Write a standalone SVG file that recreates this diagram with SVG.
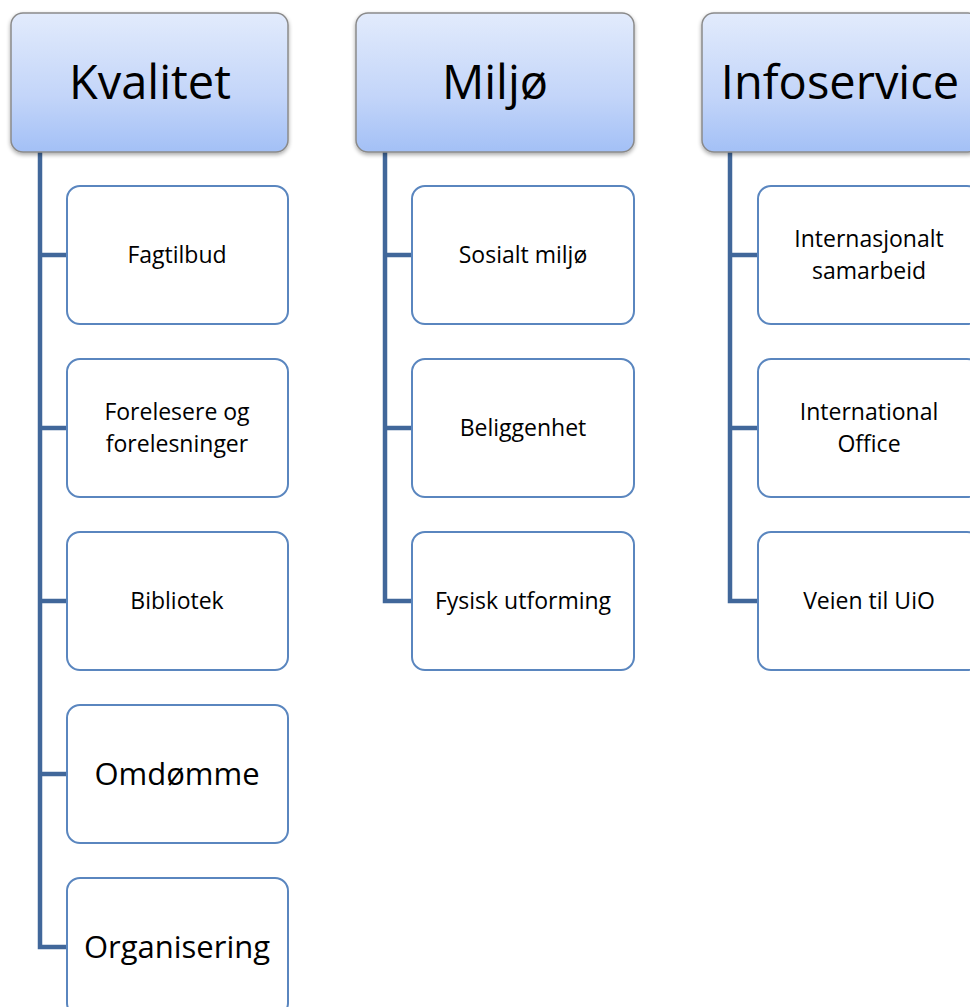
<svg xmlns="http://www.w3.org/2000/svg" width="970" height="1007" viewBox="0 0 970 1007">
<defs>
<linearGradient id="hg" x1="0" y1="0" x2="0" y2="1">
<stop offset="0" stop-color="#e2ebfc"/>
<stop offset="0.6" stop-color="#c3d5f9"/>
<stop offset="1" stop-color="#a3c0f6"/>
</linearGradient>
<filter id="sh" x="-10%" y="-10%" width="120%" height="130%">
<feGaussianBlur in="SourceAlpha" stdDeviation="2"/>
<feOffset dx="0" dy="2"/>
<feComponentTransfer><feFuncA type="linear" slope="0.35"/></feComponentTransfer>
<feMerge><feMergeNode/><feMergeNode in="SourceGraphic"/></feMerge>
</filter>
</defs>
<style>
.hdr{fill:url(#hg);stroke:#8a8a8a;stroke-width:1.5;filter:url(#sh)}
.ch{fill:#ffffff;stroke:#5a86bf;stroke-width:2}
.ht{font-family:"Open Sans","Liberation Sans",sans-serif;font-size:47px;fill:#000;text-anchor:middle}
.ct{font-family:"Open Sans","Liberation Sans",sans-serif;font-size:23px;fill:#000;text-anchor:middle}
.cb{font-family:"Open Sans","Liberation Sans",sans-serif;font-size:31px;fill:#000;text-anchor:middle}
.ln{fill:none;stroke:#41679a;stroke-width:4.5}
</style>
<g id="connectors">
<path class="ln" d="M40,152 V947 H67 M40,255 H67 M40,428 H67 M40,601 H67 M40,774 H67"/>
<path class="ln" d="M385,152 V601 H412 M385,255 H412 M385,428 H412"/>
<path class="ln" d="M730,152 V601 H758 M730,255 H758 M730,428 H758"/>
</g>
<g id="kvalitet"><rect class="hdr" x="11" y="13" width="277" height="139" rx="12"/><text class="ht" x="150" y="99">Kvalitet</text></g>
<g id="miljo"><rect class="hdr" x="356" y="13" width="278" height="139" rx="12"/><text class="ht" x="495" y="99">Miljø</text></g>
<g id="infoservice"><rect class="hdr" x="702" y="13" width="278" height="139" rx="12"/><text class="ht" x="840" y="99">Infoservice</text></g>
<g id="fagtilbud"><rect class="ch" x="67" y="186" width="221" height="138" rx="13"/><text class="ct" x="177" y="263">Fagtilbud</text></g>
<g id="forelesere"><rect class="ch" x="67" y="359" width="221" height="138" rx="13"/><text class="ct" x="177" y="420">Forelesere og</text><text class="ct" x="177" y="452">forelesninger</text></g>
<g id="bibliotek"><rect class="ch" x="67" y="532" width="221" height="138" rx="13"/><text class="ct" x="177" y="609">Bibliotek</text></g>
<g id="omdomme"><rect class="ch" x="67" y="705" width="221" height="138" rx="13"/><text class="cb" x="177" y="785">Omdømme</text></g>
<g id="organisering"><rect class="ch" x="67" y="878" width="221" height="138" rx="13"/><text class="cb" x="177" y="958">Organisering</text></g>
<g id="sosialt"><rect class="ch" x="412" y="186" width="222" height="138" rx="13"/><text class="ct" x="523" y="263">Sosialt miljø</text></g>
<g id="beliggenhet"><rect class="ch" x="412" y="359" width="222" height="138" rx="13"/><text class="ct" x="523" y="436">Beliggenhet</text></g>
<g id="fysisk"><rect class="ch" x="412" y="532" width="222" height="138" rx="13"/><text class="ct" x="523" y="609">Fysisk utforming</text></g>
<g id="internasjonalt"><rect class="ch" x="758" y="186" width="222" height="138" rx="13"/><text class="ct" x="869" y="247">Internasjonalt</text><text class="ct" x="869" y="279">samarbeid</text></g>
<g id="international"><rect class="ch" x="758" y="359" width="222" height="138" rx="13"/><text class="ct" x="869" y="420">International</text><text class="ct" x="869" y="452">Office</text></g>
<g id="veien"><rect class="ch" x="758" y="532" width="222" height="138" rx="13"/><text class="ct" x="869" y="609">Veien til UiO</text></g>
</svg>
